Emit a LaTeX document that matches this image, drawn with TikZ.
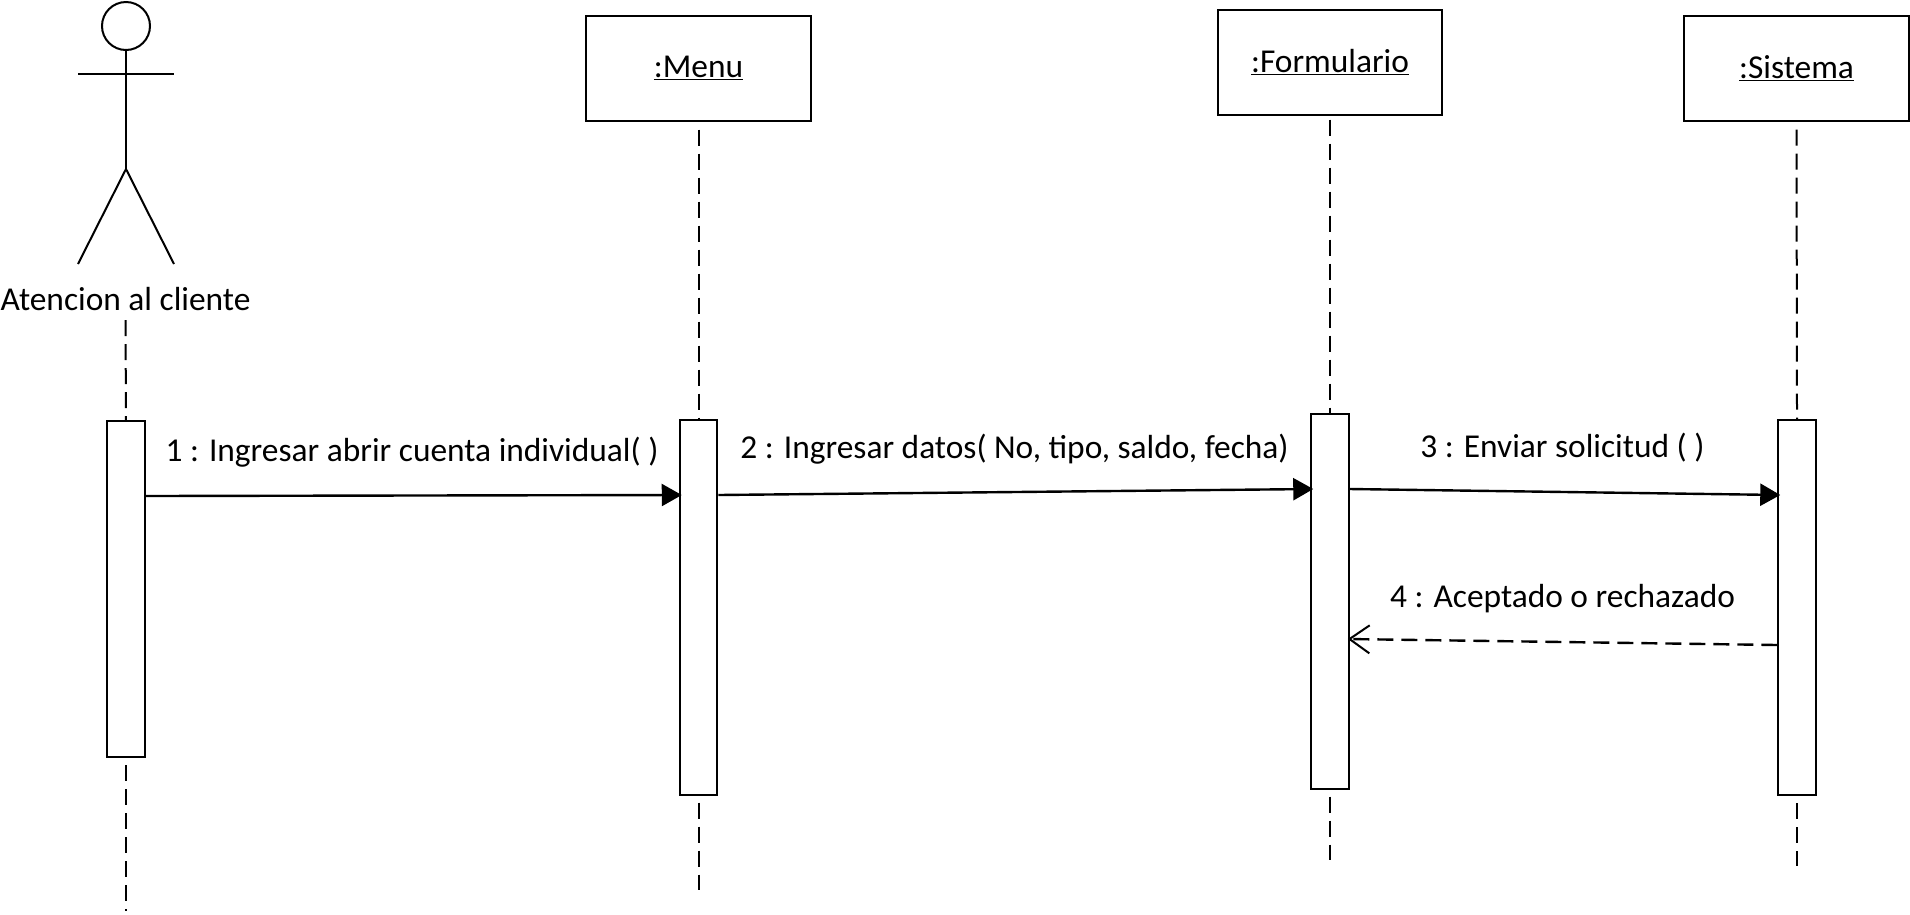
\documentclass[tikz,border=0pt]{standalone}
\usepackage{fontspec}
\setmainfont{Carlito}
\usetikzlibrary{arrows.meta}
\tikzset{
	objbox/.style={draw, line width=2pt, fill=white, minimum width=224.5pt, minimum height=105pt, inner sep=0pt},
	actbar/.style={draw, line width=2pt, fill=white, minimum width=37.5pt, inner sep=0pt},
	lifeline/.style={line width=2pt, dash pattern=on 16pt off 8pt},
	stick/.style={line width=2pt},
	msg/.style={anchor=base, inner sep=0pt},
	call/.style={line width=2.4pt, -{Triangle[length=20pt,width=22pt]}},
	reply/.style={line width=2.4pt, dash pattern=on 16pt off 8pt, -{Straight Barb[length=20pt,width=28pt,line width=2pt]}}
}
\begin{document}
\begin{tikzpicture}[x=1pt, y=-1pt, font=\fontsize{33.4}{38}\selectfont]
\useasboundingbox (0,0) rectangle (1910,914);
% actor
\node [draw, stick, circle, minimum size=48pt, inner sep=0pt] (head) at (126,26) {};
\coordinate (hip) at (126,169);
\coordinate (armL) at (78,74);
\coordinate (armR) at (174,74);
\coordinate (footL) at (78,264);
\coordinate (footR) at (174,264);
\draw [stick] (head.south) -- (hip);
\draw [stick] (armL) -- (armR);
\draw [stick] (footL) -- (hip) -- (footR);
\node [anchor=base, inner sep=0pt] (actor) at (125.5,310) {Atencion al cliente};
% objects
\path
	(698.5,68) node [objbox] (menu) {\underline{:Menu}}
	(1330,62) node [objbox] (form) {\underline{:Formulario}}
	(1796.5,68) node [objbox] (sist) {\underline{:Sistema}};
% lifeline ends
\coordinate (actorEnd) at (126,911);
\coordinate (menuEnd) at (698.5,890);
\coordinate (formEnd) at (1330,860);
\coordinate (sistEnd) at (1797,866);
\draw [lifeline] (actor.south |- 0,320) -- (126,421);
\draw [lifeline] (menu.south) ++(0,8) -- (698.5,420);
\draw [lifeline] (form.south) ++(0,4) -- (1330,414);
\draw [lifeline] (sist.south) ++(0,8) -- (1797,420);
% bars
\path
	(126,589) node [actbar, minimum height=336pt] (actorBar) {}
	(698.5,607) node [actbar, minimum height=375pt] (menuBar) {}
	(1330,601) node [actbar, minimum height=375pt] (formBar) {}
	(1797,607.5) node [actbar, minimum height=375pt] (sistBar) {};
\draw [lifeline, shorten <=7pt] (actorBar.south) -- (actorEnd);
\draw [lifeline, shorten <=7pt] (menuBar.south) -- (menuEnd);
\draw [lifeline, shorten <=7pt] (formBar.south) -- (formEnd);
\draw [lifeline, shorten <=7pt] (sistBar.south) -- (sistEnd);
% messages
\coordinate (m1a) at (actorBar.east |- 0,496);
\coordinate (m1b) at ([xshift=3pt]menuBar.west |- 0,495);
\coordinate (m2a) at (menuBar.east |- 0,495);
\coordinate (m2b) at ([xshift=3pt]formBar.west |- 0,489);
\coordinate (m3a) at (formBar.east |- 0,489);
\coordinate (m3b) at ([xshift=3pt]sistBar.west |- 0,495);
\coordinate (m4a) at (sistBar.west |- 0,645);
\coordinate (m4b) at ([xshift=-2pt]formBar.east |- 0,639);
\draw [call] (m1a) -- (m1b);
\draw [call] (m2a) -- (m2b);
\draw [call] (m3a) -- (m3b);
\draw [reply] (m4a) -- (m4b);
\path
	(412,461) node [msg] (l1) {1 : Ingresar abrir cuenta individual( )}
	(1014.5,458) node [msg] (l2) {2 : Ingresar datos( No, tipo, saldo, fecha)}
	(1562.5,457) node [msg] (l3) {3 : Enviar solicitud ( )}
	(1562.5,607) node [msg] (l4) {4 : Aceptado o rechazado};
\end{tikzpicture}
\end{document}
